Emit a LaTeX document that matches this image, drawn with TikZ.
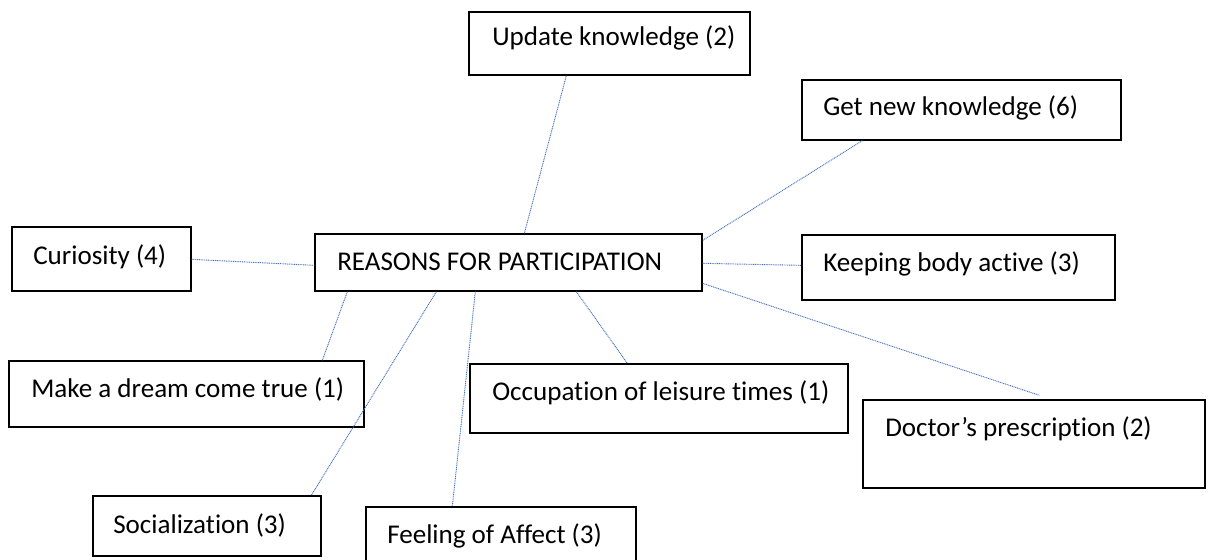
\documentclass[tikz,border=0pt]{standalone}
\usepackage{fontspec}
\setmainfont{Carlito}[Ligatures=NoCommon]
\usetikzlibrary{fit,calc}
\definecolor{linkblue}{RGB}{68,114,196}
\tikzset{
  box/.style={draw=black, line width=1pt, inner sep=0pt, fill=none},
  lbl/.style={anchor=base west, inner sep=0pt, font=\fontsize{20.3}{24}\selectfont},
  link/.style={draw=linkblue, line width=0.7pt, dash pattern=on 0.75pt off 0.6pt},
}
\begin{document}
\begin{tikzpicture}[x=0.75pt, y=-0.75pt]
\useasboundingbox (0,0) rectangle (1208,560);

% boxes
\node[box, fit={(469,12) (750,75)}]    (upd)  {};
\node[box, fit={(802,80) (1121,140)}]  (gnk)  {};
\node[box, fit={(12,227) (191,291)}]   (cur)  {};
\node[box, fit={(315,234) (702,291)}]  (main) {};
\node[box, fit={(802,235) (1115,300)}] (kba)  {};
\node[box, fit={(9,361) (364,427)}]    (drm)  {};
\node[box, fit={(470,364) (848,433)}]  (occ)  {};
\node[box, fit={(863,400) (1205,488)}] (doc)  {};
\node[box, fit={(93,496) (321,556)}]   (soc)  {};
\node[box, fit={(366,507) (636,566)}]  (fee)  {};

% labels
\node[lbl] (updT)  at (492,46)  {Update knowledge (2)};
\node[lbl] (gnkT)  at (823,116) {Get new knowledge (6)};
\node[lbl] (curT)  at (33,264)  {Curiosity (4)};
\node[lbl] (mainT) at (337,270) {REASONS FOR PARTICIPATION};
\node[lbl] (kbaT)  at (823,271) {Keeping body active (3)};
\node[lbl] (drmT)  at (31,397)  {Make a dream come true (1)};
\node[lbl] (occT)  at (492,400) {Occupation of leisure times (1)};
\node[lbl] (docT)  at (885,436) {Doctor’s prescription (2)};
\node[lbl] (socT)  at (113,533) {Socialization (3)};
\node[lbl] (feeT)  at (387,543) {Feeling of Affect (3)};

% connectors
\draw[link] ($(main.north west)+(210,0)$) -- ($(upd.south west)+(98,0)$);
\draw[link] ($(main.north east)+(0,7)$)   -- ($(gnk.south west)+(61,0)$);
\draw[link] ($(cur.north east)+(0,33)$)   -- ($(main.north west)+(0,32)$);
\draw[link] ($(main.north east)+(0,30)$)  -- ($(kba.north west)+(0,31)$);
\draw[link] ($(main.north east)+(0,50)$)  -- ($(doc.north west)+(177,-4)$);
\draw[link] ($(main.south west)+(33,0)$)  -- ($(drm.north west)+(314,0)$);
\draw[link] ($(main.south west)+(122,0)$) -- ($(soc.north west)+(219,0)$);
\draw[link] ($(main.south west)+(161,0)$) -- ($(fee.north west)+(87,0)$);
\draw[link] ($(main.south west)+(262,0)$) -- ($(occ.north west)+(158,0)$);
\end{tikzpicture}
\end{document}
